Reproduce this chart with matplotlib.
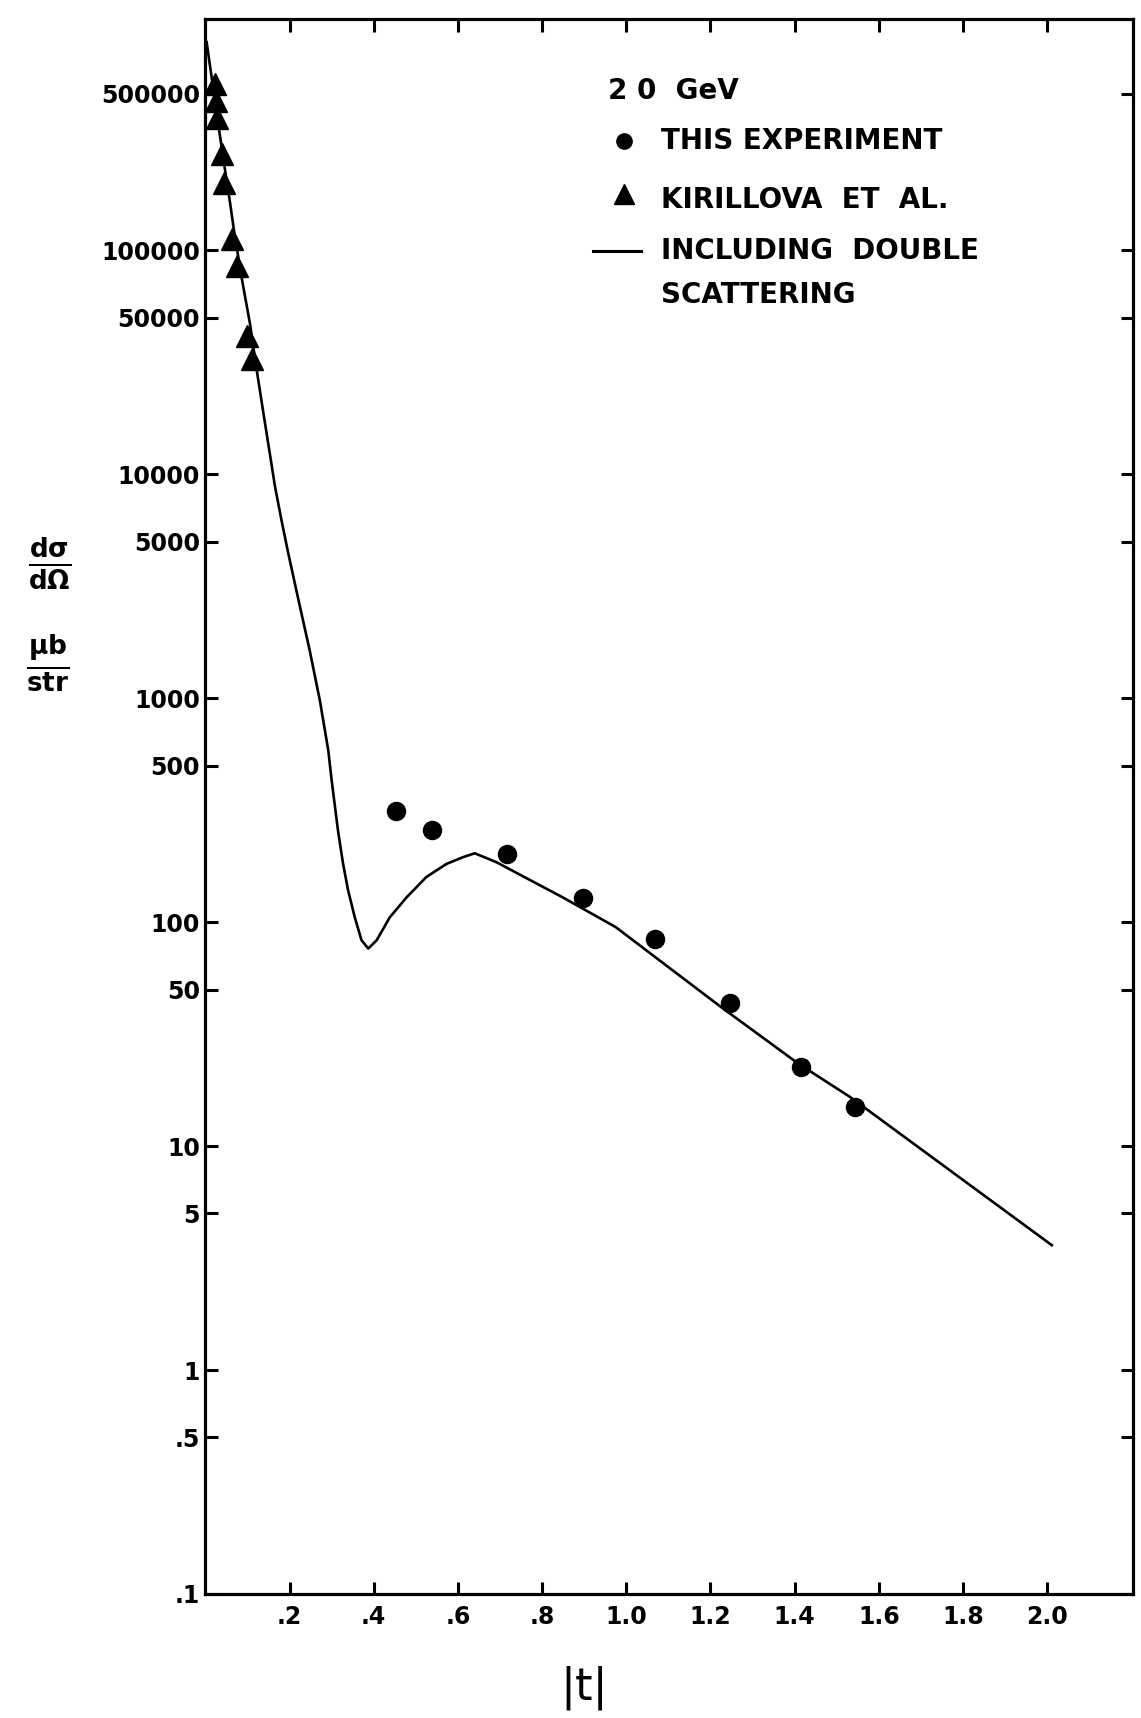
import numpy as np
import matplotlib
matplotlib.use("Agg")
import matplotlib.pyplot as plt
from matplotlib.ticker import FixedLocator, FixedFormatter, NullLocator

plt.rcParams['font.family'] = ['DejaVu Sans']
plt.rcParams['font.weight'] = 'bold'
plt.rcParams['mathtext.fontset'] = 'dejavusans'
plt.rcParams['mathtext.default'] = 'bf'

# this experiment (circles)
t_exp = [0.452, 0.538, 0.717, 0.897, 1.069, 1.246, 1.414, 1.543]
ds_exp = [315, 258, 201, 128, 84.5, 43.5, 22.6, 14.9]

# Kirillova et al. (triangles)
t_kir = [0.022, 0.025, 0.027, 0.039, 0.044, 0.063, 0.075, 0.098, 0.110]
ds_kir = [5.53e5, 4.65e5, 3.9e5, 2.7e5, 2.0e5, 1.12e5, 8.5e4, 4.15e4, 3.28e4]

# calculation including double scattering
t_curve = [0.003, 0.034, 0.046, 0.058, 0.069, 0.086, 0.106, 0.121, 0.137, 0.153,
           0.165, 0.181, 0.197, 0.215, 0.226, 0.248, 0.272, 0.292, 0.300, 0.315,
           0.327, 0.339, 0.355, 0.371, 0.387, 0.407, 0.438, 0.478, 0.525, 0.573,
           0.612, 0.640, 0.692, 0.747, 0.849, 0.958, 0.975, 1.058, 1.225, 1.408,
           1.531, 2.011]
ds_curve = [8.5e5, 3.31e5, 2.33e5, 1.66e5, 1.19e5, 7.57e4, 4.70e4, 3.0e4, 1.92e4, 1.24e4,
            8.9e3, 6.21e3, 4.43e3, 3.1e3, 2.5e3, 1.63e3, 977, 585, 430, 257,
            183, 139, 105, 83, 76.2, 83, 105, 129, 159, 182,
            195, 203, 185, 163, 129, 99, 95, 72.3, 41.8, 23.4,
            16.6, 3.61]

y_ticks = [5e5, 1e5, 5e4, 1e4, 5e3, 1e3, 500, 100, 50, 10, 5, 1, 0.5, 0.1]
y_labels = ["500000", "100000", "50000", "10000", "5000", "1000", "500",
            "100", "50", "10", "5", "1", ".5", ".1"]
x_ticks = [0.2, 0.4, 0.6, 0.8, 1.0, 1.2, 1.4, 1.6, 1.8, 2.0]
x_labels = [".2", ".4", ".6", ".8", "1.0", "1.2", "1.4", "1.6", "1.8", "2.0"]

fig = plt.figure(figsize=(11.41, 17.18), dpi=100)
ax = fig.add_axes([0.180, 0.0722, 0.813, 0.9165])

ax.plot(t_curve, ds_curve, color='black', lw=1.9, solid_joinstyle='round')
ax.plot(t_exp, ds_exp, 'o', color='black', ms=13, mec='black')
ax.plot(t_kir, ds_kir, '^', color='black', ms=16, mec='black')

ax.set_yscale('log')
ax.set_xlim(0, 2.204)
ax.set_ylim(0.1, 1.074e6)

ax.yaxis.set_major_locator(FixedLocator(y_ticks))
ax.yaxis.set_major_formatter(FixedFormatter(y_labels))
ax.yaxis.set_minor_locator(NullLocator())
ax.xaxis.set_major_locator(FixedLocator(x_ticks))
ax.xaxis.set_major_formatter(FixedFormatter(x_labels))

ax.tick_params(axis='both', which='major', direction='in', length=9, width=2.2,
               top=True, right=True, labelsize=17)
ax.tick_params(axis='y', pad=4)
ax.tick_params(axis='x', pad=8)
for s in ax.spines.values():
    s.set_linewidth(2.3)

# key
key_font = dict(transform=ax.transAxes, fontsize=20, fontweight='bold',
                va='center', ha='left')
ax.text(0.434, 0.9545, "2 0  GeV", **key_font)
ax.plot([0.451], [0.9228], 'o', color='black', ms=11, transform=ax.transAxes)
ax.text(0.491, 0.9228, "THIS EXPERIMENT", **key_font)
ax.plot([0.451], [0.889], '^', color='black', ms=15, transform=ax.transAxes)
ax.text(0.491, 0.885, "KIRILLOVA  ET  AL.", **key_font)
ax.plot([0.418, 0.4695], [0.853, 0.853], color='black', lw=2.2, transform=ax.transAxes)
ax.text(0.491, 0.853, "INCLUDING  DOUBLE", **key_font)
ax.text(0.491, 0.825, "SCATTERING", **key_font)

# axis labels
fig.text(0.408 * 0.813 + 0.180, 0.0175, "|t|", fontsize=32, fontweight='normal',
         ha='center', va='center')
fig.text(0.043, 1 - 563 / 1718, r"$\frac{d\sigma}{d\Omega}$", fontsize=27,
         ha='center', va='center')
fig.text(0.042, 1 - 663 / 1718, r"$\frac{\mu b}{str}$", fontsize=27,
         ha='center', va='center')

fig.savefig("out.png", dpi=100)
